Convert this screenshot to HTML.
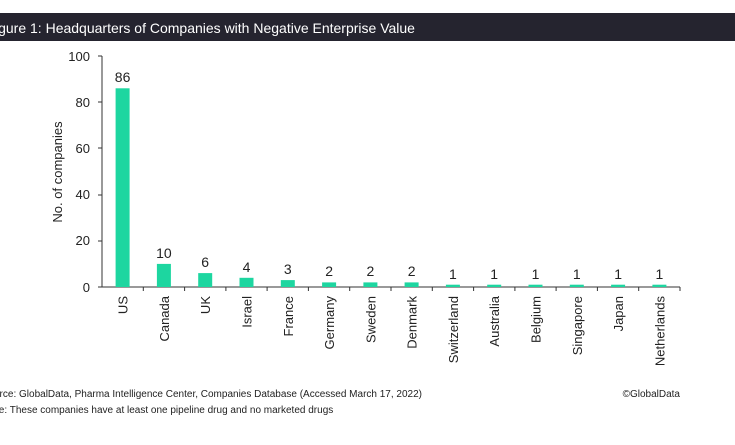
<!DOCTYPE html>
<html><head><style>
body{margin:0;width:735px;height:440px;background:#fff;overflow:hidden;font-family:"Liberation Sans",sans-serif}
</style></head><body>
<svg width="735" height="440" xmlns="http://www.w3.org/2000/svg" font-family="Liberation Sans, sans-serif">
<rect x="0" y="13" width="735" height="28" fill="#25242f"/>
<text x="-5" y="33" fill="#fff" font-size="14">igure 1: Headquarters of Companies with Negative Enterprise Value</text>
<g font-size="13" fill="#222" text-anchor="end">
<text x="90" y="61">100</text><text x="90" y="107">80</text><text x="90" y="153">60</text><text x="90" y="199">40</text><text x="90" y="245">20</text><text x="90" y="292">0</text>
</g>
<text transform="translate(62,172) rotate(-90)" font-size="13" fill="#222" text-anchor="middle">No. of companies</text>
<g stroke="#333" stroke-width="1">
<line x1="102" y1="56" x2="102" y2="287"/>
<line x1="98" y1="56" x2="102" y2="56"/><line x1="98" y1="102" x2="102" y2="102"/><line x1="98" y1="148" x2="102" y2="148"/><line x1="98" y1="195" x2="102" y2="195"/><line x1="98" y1="241" x2="102" y2="241"/>
<line x1="98" y1="287" x2="680" y2="287"/>
<line x1="143.3" y1="287" x2="143.3" y2="291"/><line x1="184.6" y1="287" x2="184.6" y2="291"/><line x1="225.9" y1="287" x2="225.9" y2="291"/><line x1="267.1" y1="287" x2="267.1" y2="291"/><line x1="308.4" y1="287" x2="308.4" y2="291"/><line x1="349.7" y1="287" x2="349.7" y2="291"/><line x1="391" y1="287" x2="391" y2="291"/><line x1="432.3" y1="287" x2="432.3" y2="291"/><line x1="473.6" y1="287" x2="473.6" y2="291"/><line x1="514.9" y1="287" x2="514.9" y2="291"/><line x1="556.1" y1="287" x2="556.1" y2="291"/><line x1="597.4" y1="287" x2="597.4" y2="291"/><line x1="638.7" y1="287" x2="638.7" y2="291"/><line x1="680" y1="287" x2="680" y2="291"/>
</g>
<g fill="#1dd6a0">
<rect x="115.6" y="88.3" width="14" height="198.7"/>
<rect x="156.9" y="263.9" width="14" height="23.1"/>
<rect x="198.2" y="273.1" width="14" height="13.9"/>
<rect x="239.5" y="277.8" width="14" height="9.2"/>
<rect x="280.8" y="280.1" width="14" height="6.9"/>
<rect x="322.1" y="282.4" width="14" height="4.6"/>
<rect x="363.4" y="282.4" width="14" height="4.6"/>
<rect x="404.6" y="282.4" width="14" height="4.6"/>
<rect x="445.9" y="284.7" width="14" height="2.3"/>
<rect x="487.2" y="284.7" width="14" height="2.3"/>
<rect x="528.5" y="284.7" width="14" height="2.3"/>
<rect x="569.8" y="284.7" width="14" height="2.3"/>
<rect x="611.1" y="284.7" width="14" height="2.3"/>
<rect x="652.4" y="284.7" width="14" height="2.3"/>
</g>
<g font-size="14" fill="#222" text-anchor="middle">
<text x="122.6" y="82">86</text><text x="163.9" y="258">10</text><text x="205.2" y="267">6</text><text x="246.5" y="272">4</text><text x="287.8" y="274">3</text><text x="329.1" y="276">2</text><text x="370.4" y="276">2</text><text x="411.6" y="276">2</text><text x="452.9" y="279">1</text><text x="494.2" y="279">1</text><text x="535.5" y="279">1</text><text x="576.8" y="279">1</text><text x="618.1" y="279">1</text><text x="659.4" y="279">1</text>
</g>
<g font-size="13" fill="#222" text-anchor="end">
<text transform="translate(127.6,296) rotate(-90)">US</text>
<text transform="translate(168.9,296) rotate(-90)">Canada</text>
<text transform="translate(210.2,296) rotate(-90)">UK</text>
<text transform="translate(251.5,296) rotate(-90)">Israel</text>
<text transform="translate(292.8,296) rotate(-90)">France</text>
<text transform="translate(334.1,296) rotate(-90)">Germany</text>
<text transform="translate(375.4,296) rotate(-90)">Sweden</text>
<text transform="translate(416.6,296) rotate(-90)">Denmark</text>
<text transform="translate(457.9,296) rotate(-90)">Switzerland</text>
<text transform="translate(499.2,296) rotate(-90)">Australia</text>
<text transform="translate(540.5,296) rotate(-90)">Belgium</text>
<text transform="translate(581.8,296) rotate(-90)">Singapore</text>
<text transform="translate(623.1,296) rotate(-90)">Japan</text>
<text transform="translate(664.4,296) rotate(-90)">Netherlands</text>
</g>
<text x="680" y="397" font-size="10" fill="#222" text-anchor="end">©GlobalData</text>
<text x="-6" y="397" font-size="10" fill="#222">urce: GlobalData, Pharma Intelligence Center, Companies Database (Accessed March 17, 2022)</text>
<text x="-4" y="413" font-size="10" fill="#222">te: These companies have at least one pipeline drug and no marketed drugs</text>
</svg>
</body></html>
